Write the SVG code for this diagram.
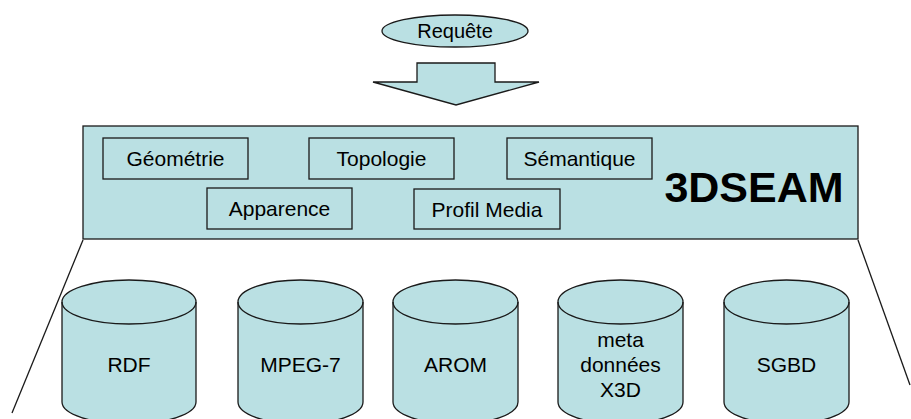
<svg xmlns="http://www.w3.org/2000/svg" width="911" height="419" viewBox="0 0 911 419">
<style>
.f{fill:#BAE0E3;stroke:#1a1a1a;stroke-width:1.3}
.b{fill:none;stroke:#1a1a1a;stroke-width:1.3}
.t{font-family:"Liberation Sans",Arial,sans-serif;font-size:21px;fill:#000;text-anchor:middle}
</style>
<rect width="911" height="419" fill="#fff"/>
<g id="connectors">
<line class="b" x1="83" y1="240" x2="12" y2="413"/>
<line class="b" x1="858" y1="240" x2="910" y2="385"/>
</g>
<g id="requete">
<ellipse class="f" cx="455" cy="31" rx="73" ry="16"/>
<text class="t" x="455" y="38" style="font-size:20px">Requête</text>
</g>
<g id="arrow">
<polygon class="f" points="417,63 495,63 495,82 539,82 456,105 373,82 417,82"/>
</g>
<g id="seam">
<rect class="f" x="83" y="126" width="775" height="113"/>
<text x="754" y="202" style="font-family:'Liberation Sans',Arial,sans-serif;font-size:43px;font-weight:bold;text-anchor:middle">3DSEAM</text>
</g>
<g id="geometrie"><rect class="f" x="103" y="138" width="145" height="41"/><text class="t" x="175.5" y="166">Géométrie</text></g>
<g id="topologie"><rect class="f" x="309" y="138" width="145" height="41"/><text class="t" x="381.5" y="166">Topologie</text></g>
<g id="semantique"><rect class="f" x="507" y="138" width="145" height="41"/><text class="t" x="579.5" y="166">Sémantique</text></g>
<g id="apparence"><rect class="f" x="207" y="188" width="145" height="41"/><text class="t" x="279.5" y="216">Apparence</text></g>
<g id="profil"><rect class="f" x="414" y="189" width="146" height="40"/><text class="t" x="487" y="217">Profil Media</text></g>
<g id="rdf">
<path class="f" d="M62,302 V402 A67,22 0 0 0 196,402 V302 A67,22 0 0 0 62,302 Z"/>
<path class="b" d="M62,302 A67,22 0 0 0 196,302"/>
<text class="t" x="129" y="372">RDF</text>
</g>
<g id="mpeg7">
<path class="f" d="M238,302 V402 A62.5,22 0 0 0 363,402 V302 A62.5,22 0 0 0 238,302 Z"/>
<path class="b" d="M238,302 A62.5,22 0 0 0 363,302"/>
<text class="t" x="300.5" y="372">MPEG-7</text>
</g>
<g id="arom">
<path class="f" d="M393,302 V402 A62.5,22 0 0 0 518,402 V302 A62.5,22 0 0 0 393,302 Z"/>
<path class="b" d="M393,302 A62.5,22 0 0 0 518,302"/>
<text class="t" x="455.5" y="372">AROM</text>
</g>
<g id="meta">
<path class="f" d="M558,302 V402 A62.5,22 0 0 0 683,402 V302 A62.5,22 0 0 0 558,302 Z"/>
<path class="b" d="M558,302 A62.5,22 0 0 0 683,302"/>
<text class="t" x="620.5" y="347">meta</text>
<text class="t" x="620.5" y="372">données</text>
<text class="t" x="620.5" y="397">X3D</text>
</g>
<g id="sgbd">
<path class="f" d="M724,302 V402 A62.5,22 0 0 0 849,402 V302 A62.5,22 0 0 0 724,302 Z"/>
<path class="b" d="M724,302 A62.5,22 0 0 0 849,302"/>
<text class="t" x="786.5" y="372">SGBD</text>
</g>
</svg>
